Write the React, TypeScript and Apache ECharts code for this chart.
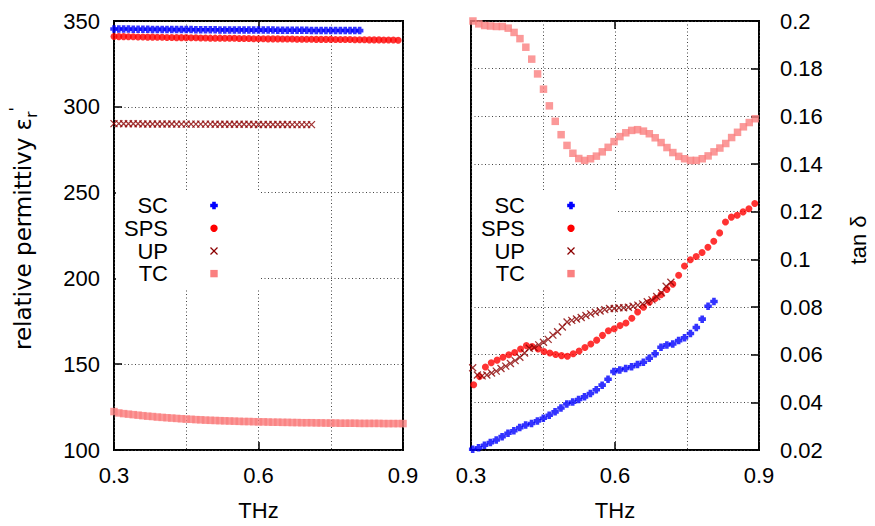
import React, { useEffect, useRef } from 'react';
import * as echarts from 'echarts';

// sampling frequencies (THz) for each measured series
const freqGrid = (start: number, step: number, n: number): number[] =>
  Array.from({ length: n }, (_, i) => +(start + i * step).toFixed(5));

const seriesNames = ['SC', 'SPS', 'UP', 'TC'];
const xTickLabels = ['0.3', '0.6', '0.9'];

// ---- Left panel: relative permittivity ----
const epsSC = [
  345.3, 345.3, 345.3, 345.3, 345.2, 345.2, 345.2, 345.2, 345.1, 345.1,
  345.1, 345.1, 345.0, 345.0, 345.0, 345.0, 345.0, 344.9, 344.9, 344.9,
  344.9, 344.9, 344.8, 344.8, 344.8, 344.8, 344.8, 344.8, 344.7, 344.7,
  344.7, 344.7, 344.7, 344.7, 344.6, 344.6, 344.6, 344.6, 344.6, 344.6,
  344.6, 344.5, 344.5, 344.5, 344.5, 344.5, 344.5, 344.5, 344.5, 344.4,
  344.4, 344.4,
];
const epsSPS = [
  341.0, 340.9, 340.9, 340.8, 340.8, 340.7, 340.7, 340.6, 340.6, 340.5,
  340.5, 340.4, 340.4, 340.3, 340.3, 340.3, 340.2, 340.2, 340.1, 340.1,
  340.0, 340.0, 340.0, 339.9, 339.9, 339.9, 339.8, 339.8, 339.8, 339.7,
  339.7, 339.7, 339.6, 339.6, 339.6, 339.5, 339.5, 339.5, 339.4, 339.4,
  339.4, 339.4, 339.3, 339.3, 339.3, 339.3, 339.2, 339.2, 339.2, 339.2,
  339.1, 339.1, 339.1, 339.0, 339.0, 339.0, 338.9, 338.9, 338.9, 338.8,
];
const epsUP = [
  290.2, 290.2, 290.1, 290.1, 290.1, 290.1, 290.0, 290.0, 290.0, 290.0,
  290.0, 290.0, 290.0, 289.9, 289.9, 289.9, 289.9, 289.9, 289.9, 289.9,
  289.9, 289.8, 289.8, 289.8, 289.8, 289.8, 289.8, 289.8, 289.8, 289.7,
  289.7, 289.7, 289.7, 289.7, 289.7, 289.7, 289.7, 289.6, 289.6, 289.6,
  289.6, 289.6,
];
const epsTC = [
  122.4, 121.6, 121.2, 120.9, 120.6, 120.3, 120.0, 119.7, 119.5, 119.2,
  119.0, 118.8, 118.6, 118.4, 118.2, 118.0, 117.9, 117.7, 117.6, 117.4,
  117.3, 117.2, 117.1, 117.0, 116.9, 116.8, 116.7, 116.6, 116.6, 116.5,
  116.4, 116.4, 116.3, 116.2, 116.2, 116.1, 116.1, 116.0, 116.0, 115.9,
  115.9, 115.9, 115.8, 115.8, 115.7, 115.7, 115.7, 115.6, 115.6, 115.6,
  115.6, 115.5, 115.5, 115.5, 115.5, 115.5, 115.4, 115.4, 115.4, 115.4,
  115.4,
];
const fEpsSC = freqGrid(0.3, 0.01, epsSC.length);
const fEpsSPS = freqGrid(0.3, 0.01, epsSPS.length);
const fEpsUP = freqGrid(0.3, 0.01, epsUP.length);
const fEpsTC = freqGrid(0.3, 0.01, epsTC.length);

// ---- Right panel: loss tangent ----
const tanSC = [
  0.0203, 0.0209, 0.0220, 0.0231, 0.0242, 0.0256, 0.0270, 0.0281, 0.0294, 0.0305,
  0.0311, 0.0322, 0.0333, 0.0346, 0.0360, 0.0376, 0.0393, 0.0401, 0.0412, 0.0423,
  0.0437, 0.0453, 0.0472, 0.0497, 0.0529, 0.0536, 0.0542, 0.0549, 0.0559, 0.0568,
  0.0585, 0.0604, 0.0631, 0.0641, 0.0645, 0.0659, 0.0671, 0.0689, 0.0714, 0.0749,
  0.0803, 0.0823,
];
const tanSPS = [
  0.0474, 0.0508, 0.0548, 0.0566, 0.0577, 0.0589, 0.0600, 0.0609, 0.0624, 0.0638,
  0.0634, 0.0624, 0.0613, 0.0607, 0.0601, 0.0596, 0.0593, 0.0604, 0.0615, 0.0630,
  0.0645, 0.0661, 0.0681, 0.0700, 0.0709, 0.0722, 0.0733, 0.0753, 0.0779, 0.0799,
  0.0820, 0.0836, 0.0852, 0.0874, 0.0896, 0.0933, 0.0972, 0.0998, 0.1012, 0.1029,
  0.1051, 0.1076, 0.1111, 0.1157, 0.1177, 0.1185, 0.1199, 0.1212, 0.1234,
];
const tanUP = [
  0.0545, 0.0515, 0.0511, 0.0515, 0.0523, 0.0531, 0.0542, 0.0552, 0.0563, 0.0575,
  0.0589, 0.0607, 0.0627, 0.0630, 0.0641, 0.0652, 0.0664, 0.0682, 0.0696, 0.0716,
  0.0737, 0.0744, 0.0750, 0.0756, 0.0764, 0.0771, 0.0778, 0.0783, 0.0789, 0.0794,
  0.0794, 0.0797, 0.0797, 0.0799, 0.0803, 0.0808, 0.0813, 0.0822, 0.0830, 0.0844,
  0.0860, 0.0887, 0.0904,
];
const tanTC = [
  0.2000, 0.1988, 0.1981, 0.1979, 0.1977, 0.1977, 0.1970, 0.1952, 0.1926, 0.1890,
  0.1840, 0.1778, 0.1714, 0.1644, 0.1579, 0.1523, 0.1478, 0.1445, 0.1423, 0.1415,
  0.1422, 0.1433, 0.1451, 0.1470, 0.1494, 0.1515, 0.1531, 0.1541, 0.1544, 0.1538,
  0.1527, 0.1510, 0.1490, 0.1469, 0.1448, 0.1432, 0.1422, 0.1415, 0.1415, 0.1422,
  0.1434, 0.1451, 0.1467, 0.1486, 0.1511, 0.1533, 0.1556, 0.1574, 0.1590,
];
const fTanSC = freqGrid(0.3035, 0.01226, tanSC.length);
const fTanSPS = freqGrid(0.3056, 0.0122, tanSPS.length);
const fTanUP = freqGrid(0.3035, 0.00983, tanUP.length);
const fTanTC = freqGrid(0.304, 0.01225, tanTC.length);

const COLORS: Record<string, string> = {
  SC: '#0000ff',
  SPS: '#ff0000',
  UP: '#8b0000',
  TC: '#fa8080',
};

const FONT = '"Liberation Sans", Arial, Helvetica, sans-serif';
const LABEL_FONT = '"DejaVu Sans", "Liberation Sans", sans-serif';
const FS = 22;
const PLUS = 'path://M2.6,0H7.4V2.6H10V7.4H7.4V10H2.6V7.4H0V2.6H2.6Z';
const CROSS = 'path://M0,0L10,10M10,0L0,10';

const zip = (xs: number[], ys: number[]) => xs.map((x, i) => [x, ys[i]]);

function symbolFor(name: string) {
  if (name === 'SC') return { symbol: PLUS, symbolSize: 7.5, itemStyle: { color: COLORS.SC } };
  if (name === 'SPS') return { symbol: 'circle', symbolSize: 7, itemStyle: { color: COLORS.SPS } };
  if (name === 'UP')
    return {
      symbol: CROSS,
      symbolSize: 7,
      itemStyle: { color: 'rgba(0,0,0,0)', borderColor: COLORS.UP, borderWidth: 1.3 },
    };
  return { symbol: 'rect', symbolSize: 7.5, itemStyle: { color: COLORS.TC } };
}

function legendGraphics(textRight: number, symX: number, boxLeft: number, boxRight: number) {
  const rows = [205.5, 228.3, 251, 273.6];
  const els: any[] = [
    {
      type: 'rect',
      z: 5,
      shape: { x: boxLeft, y: 190, width: boxRight - boxLeft, height: 98 },
      style: { fill: '#fff' },
    },
  ];
  seriesNames.forEach((name, i) => {
    const cy = rows[i];
    els.push({
      type: 'text',
      z: 6,
      x: textRight,
      y: cy,
      style: { text: name, font: `${FS}px ${FONT}`, fill: '#000', align: 'right', verticalAlign: 'middle' },
    });
    const c = COLORS[name];
    if (name === 'SC') {
      const a = 3.8, b = 1.8;
      els.push({
        type: 'polygon',
        z: 6,
        shape: {
          points: [
            [symX - b, cy - a], [symX + b, cy - a], [symX + b, cy - b], [symX + a, cy - b],
            [symX + a, cy + b], [symX + b, cy + b], [symX + b, cy + a], [symX - b, cy + a],
            [symX - b, cy + b], [symX - a, cy + b], [symX - a, cy - b], [symX - b, cy - b],
          ],
        },
        style: { fill: c },
      });
    } else if (name === 'SPS') {
      els.push({ type: 'circle', z: 6, shape: { cx: symX, cy, r: 3.7 }, style: { fill: c } });
    } else if (name === 'UP') {
      els.push({ type: 'line', z: 6, shape: { x1: symX - 3.5, y1: cy - 3.5, x2: symX + 3.5, y2: cy + 3.5 }, style: { stroke: c, lineWidth: 1.3 } });
      els.push({ type: 'line', z: 6, shape: { x1: symX - 3.5, y1: cy + 3.5, x2: symX + 3.5, y2: cy - 3.5 }, style: { stroke: c, lineWidth: 1.3 } });
    } else {
      els.push({ type: 'rect', z: 6, shape: { x: symX - 3.7, y: cy - 3.7, width: 7.4, height: 7.4 }, style: { fill: c } });
    }
  });
  return els;
}

const gridLine = { show: true, lineStyle: { color: '#444', width: 1, type: [1, 2.5] as any } };

function xAxes(gridIndex: number) {
  const common = { type: 'value' as const, gridIndex, min: 0.3, max: 0.9, interval: 0.3 };
  return [
    {
      ...common,
      position: 'bottom',
      name: 'THz',
      nameLocation: 'middle',
      nameGap: 49,
      nameTextStyle: { color: '#000', fontSize: FS, fontFamily: FONT },
      axisLine: { show: false },
      axisTick: { show: true, inside: true, length: 8, lineStyle: { color: '#000', width: 1.5 } },
      axisLabel: {
        show: true,
        margin: 14,
        color: '#000',
        fontSize: FS,
        fontFamily: FONT,
        formatter: (v: number) => {
          const s = v.toFixed(1);
          return xTickLabels.includes(s) ? s : '';
        },
      },
      splitLine: gridLine,
      minorTick: { show: false, splitNumber: 2 },
      minorSplitLine: gridLine,
    },
    {
      ...common,
      position: 'top',
      axisLine: { show: false },
      axisTick: { show: true, inside: true, length: 8, lineStyle: { color: '#000', width: 1.5 } },
      axisLabel: { show: false },
      splitLine: { show: false },
    },
  ];
}

export default function App() {
  const ref = useRef<HTMLDivElement>(null);

  useEffect(() => {
    if (!ref.current) return;
    const chart = echarts.init(ref.current, undefined, { renderer: 'svg' });

    const leftData: Record<string, number[][]> = {
      SC: zip(fEpsSC, epsSC),
      SPS: zip(fEpsSPS, epsSPS),
      UP: zip(fEpsUP, epsUP),
      TC: zip(fEpsTC, epsTC),
    };
    const rightData: Record<string, number[][]> = {
      SC: zip(fTanSC, tanSC),
      SPS: zip(fTanSPS, tanSPS),
      UP: zip(fTanUP, tanUP),
      TC: zip(fTanTC, tanTC),
    };

    const series: any[] = [];
    seriesNames.forEach((name) => {
      series.push({
        type: 'scatter',
        name,
        xAxisIndex: 0,
        yAxisIndex: 0,
        clip: false,
        data: leftData[name],
        ...symbolFor(name),
      });
    });
    seriesNames.forEach((name) => {
      series.push({
        type: 'scatter',
        name,
        xAxisIndex: 2,
        yAxisIndex: 1,
        clip: false,
        data: rightData[name],
        ...symbolFor(name),
      });
    });

    chart.setOption({
      animation: false,
      backgroundColor: '#fff',
      textStyle: { fontFamily: FONT },
      grid: [
        { left: 114, top: 21, width: 289, height: 438, show: true, borderColor: '#000', borderWidth: 2, backgroundColor: 'transparent' },
        { left: 471, top: 21, width: 288, height: 438, show: true, borderColor: '#000', borderWidth: 2, backgroundColor: 'transparent' },
      ],
      xAxis: [...xAxes(0), ...xAxes(1)],
      yAxis: [
        {
          type: 'value',
          gridIndex: 0,
          position: 'left',
          min: 100,
          max: 350,
          interval: 50,
          axisLine: { show: false },
          axisTick: { show: true, inside: true, length: 8, lineStyle: { color: '#000', width: 1.5 } },
          axisLabel: { margin: 14, color: '#000', fontSize: FS, fontFamily: FONT },
          splitLine: gridLine,
        },
        {
          type: 'value',
          gridIndex: 1,
          position: 'right',
          min: 0.02,
          max: 0.2,
          interval: 0.02,
          axisLine: { show: false },
          axisTick: { show: true, inside: true, length: 8, lineStyle: { color: '#000', width: 1.5 } },
          axisLabel: {
            margin: 21,
            color: '#000',
            fontSize: FS,
            fontFamily: FONT,
            formatter: (v: number) => String(Math.round(v * 100) / 100),
          },
          splitLine: gridLine,
        },
      ],
      graphic: [
        ...legendGraphics(168, 214, 116, 259.8),
        ...legendGraphics(525, 571, 472.5, 616.3),
        {
          type: 'text',
          z: 6,
          x: 23,
          y: 350,
          rotation: Math.PI / 2,
          style: {
            text: "relative permittivy ε{sub|r}{sup|'}",
            font: `23px ${LABEL_FONT}`,
            fill: '#000',
            align: 'left',
            verticalAlign: 'middle',
            lineHeight: 32,
            rich: {
              sub: { fontSize: 16, fontFamily: LABEL_FONT, verticalAlign: 'bottom', lineHeight: 16, fill: '#000' },
              sup: { fontSize: 16, fontFamily: LABEL_FONT, verticalAlign: 'top', lineHeight: 16, fill: '#000' },
            },
          },
        },
        {
          type: 'text',
          z: 6,
          x: 858,
          y: 240,
          rotation: Math.PI / 2,
          style: { text: 'tan δ', font: `${FS}px ${FONT}`, fill: '#000', align: 'center', verticalAlign: 'middle' },
        },
      ],
      series,
    });

    return () => chart.dispose();
  }, []);

  return (
    <div
      ref={ref}
      style={{ position: 'absolute', left: 0, top: 0, width: 875, height: 526, background: '#fff' }}
    />
  );
}
